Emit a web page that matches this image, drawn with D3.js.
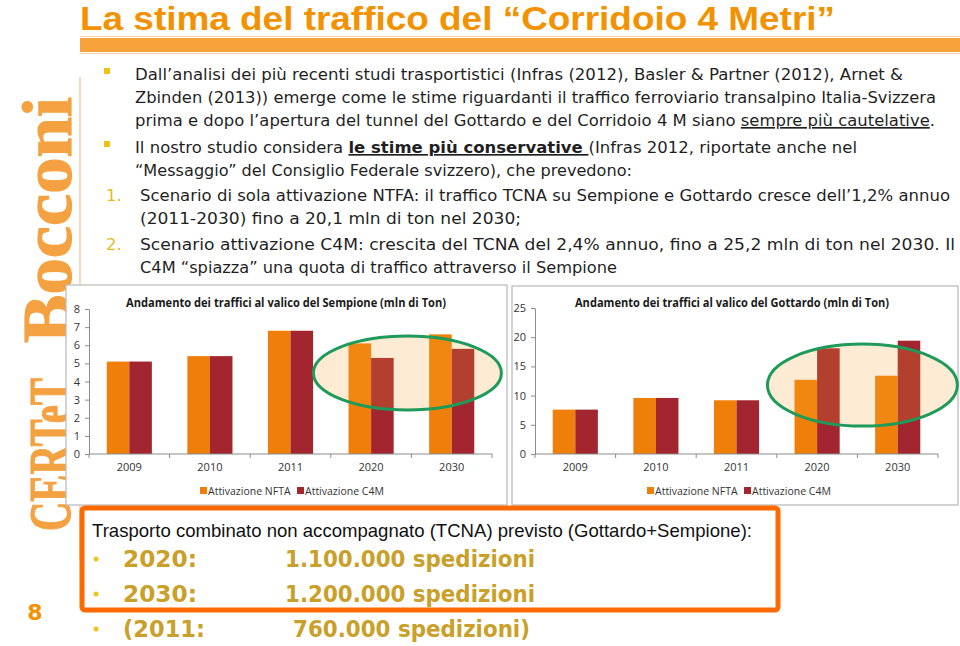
<!DOCTYPE html>
<html><head><meta charset="utf-8">
<script src="https://cdn.jsdelivr.net/npm/d3@7"></script>
<style>body{margin:0;background:#fff}svg{display:block}</style>
</head><body>
<svg id="s" width="960" height="646"></svg>
<script>
// ---------- DATA ----------
const years = ["2009","2010","2011","2020","2030"];
const seriesNames = ["Attivazione NFTA","Attivazione C4M"];
const sempioneNFTA = [5.1, 5.4, 6.8, 6.1, 6.6];
const sempioneC4M  = [5.1, 5.4, 6.8, 5.3, 5.8];
const gottardoNFTA = [7.6, 9.6, 9.2, 12.7, 13.4];
const gottardoC4M  = [7.6, 9.6, 9.2, 18.1, 19.4];
const sempioneTicks = [0,1,2,3,4,5,6,7,8];
const gottardoTicks = [0,5,10,15,20,25];
const sempioneTitle = "Andamento dei traffici al valico del Sempione (mln di Ton)";
const gottardoTitle = "Andamento dei traffici al valico del Gottardo (mln di Ton)";
const slideTitle = "La stima del traffico del \u201cCorridoio 4 Metri\u201d";
const boxHeader = "Trasporto combinato non accompagnato (TCNA) previsto (Gottardo+Sempione):";
const shipYears = ["2020:", "2030:", "(2011:"];
const shipValues = ["1.100.000 spedizioni", "1.200.000 spedizioni", "760.000 spedizioni)"];

const colors = ["#F07F0A", "#A2252F"];
const svg = d3.select("#s");

// ---------- sidebar ----------
svg.append("line").attr("x1",80).attr("x2",80).attr("y1",77).attr("y2",560)
  .attr("stroke","#F6BE88").attr("stroke-width",1.2);
const side = svg.append("g").attr("transform","translate(70,531) rotate(-90)");
side.append("text").text("CERTeT").attr("x",0).attr("y",0)
  .attr("font-family","'Liberation Serif','DejaVu Serif',serif").attr("font-weight","bold")
  .attr("font-size",60).attr("fill","#F4A241").attr("stroke","#F4A241").attr("stroke-width",1.2)
  .attr("textLength",153).attr("lengthAdjust","spacingAndGlyphs");
side.append("text").text("Bocconi").attr("x",188).attr("y",1)
  .attr("font-family","'Liberation Serif','DejaVu Serif',serif").attr("font-weight","bold")
  .attr("font-size",70).attr("fill","#F4A241").attr("stroke","#F4A241").attr("stroke-width",1.2)
  .attr("textLength",246).attr("lengthAdjust","spacingAndGlyphs");
svg.append("text").text("8").attr("x",35).attr("y",620).attr("text-anchor","middle")
  .attr("font-family","'DejaVu Sans',sans-serif").attr("font-weight","bold").attr("font-size",22).attr("fill","#F39200");

// ---------- title ----------
svg.append("text").text(slideTitle).attr("x",80).attr("y",30)
  .attr("font-family","'Liberation Sans',Arial,sans-serif").attr("font-weight","bold")
  .attr("font-size",34).attr("fill","#F39200").attr("textLength",755).attr("lengthAdjust","spacingAndGlyphs");
svg.append("rect").attr("x",80).attr("y",38).attr("width",880).attr("height",14).attr("fill","#F7A23B");
svg.append("line").attr("x1",80).attr("x2",960).attr("y1",36.5).attr("y2",36.5).attr("stroke","#FBD3A5");
svg.append("line").attr("x1",80).attr("x2",960).attr("y1",53.5).attr("y2",53.5).attr("stroke","#FBD3A5");

// ---------- body text ----------
const bodyFont = "Tahoma,Verdana,'DejaVu Sans',sans-serif";
const lines = [
  {y:80, x:135, w:768, parts:[{t:"Dall\u2019analisi dei più recenti studi trasportistici (Infras (2012),  Basler & Partner (2012), Arnet &"}], mark:"sq"},
  {y:103, x:135, w:801, parts:[{t:"Zbinden (2013)) emerge come le stime riguardanti il traffico ferroviario transalpino Italia-Svizzera"}]},
  {y:126, x:135, w:800, parts:[{t:"prima e dopo l\u2019apertura del tunnel del Gottardo e del Corridoio 4 M siano "},{t:"sempre più cautelative",u:true},{t:"."}]},
  {y:153, x:135, w:722, parts:[{t:"Il nostro studio considera "},{t:"le stime più conservative ",u:true,b:true},{t:"(Infras 2012, riportate anche nel"}], mark:"sq"},
  {y:176, x:135, w:497, parts:[{t:"\u201cMessaggio\u201d del Consiglio Federale svizzero), che prevedono:"}]},
  {y:201, x:140, w:810, parts:[{t:"Scenario di sola attivazione NTFA: il traffico TCNA su Sempione e Gottardo cresce dell\u20191,2% annuo"}], mark:"1."},
  {y:224, x:140, w:381, parts:[{t:"(2011-2030) fino a 20,1 mln di ton nel 2030;"}]},
  {y:250, x:140, w:815, parts:[{t:"Scenario attivazione C4M: crescita del TCNA del 2,4% annuo, fino a 25,2 mln di ton nel 2030. Il"}], mark:"2."},
  {y:273, x:140, w:477, parts:[{t:"C4M \u201cspiazza\u201d una quota di traffico attraverso il Sempione"}]}
];
lines.forEach(l=>{
  const t = svg.append("text").attr("x",l.x).attr("y",l.y).attr("font-family",bodyFont)
    .attr("font-size",16.5).attr("fill","#1f1f1f").attr("textLength",l.w).attr("lengthAdjust","spacingAndGlyphs");
  l.parts.forEach(p=>{
    const ts = t.append("tspan").text(p.t);
    if(p.u) ts.attr("text-decoration","underline");
    if(p.b) ts.attr("font-weight","bold");
  });
  if(l.mark==="sq"){
    svg.append("rect").attr("x",104).attr("y",l.y-12).attr("width",6).attr("height",6).attr("fill","#F2C10F");
  } else if(l.mark){
    svg.append("text").text(l.mark).attr("x",106).attr("y",l.y).attr("font-family",bodyFont)
      .attr("font-size",16.5).attr("fill","#E8B923");
  }
});

// ---------- charts ----------
function chart(cfg){
  const g = svg.append("g");
  g.append("rect").attr("x",cfg.box[0]).attr("y",cfg.box[1]).attr("width",cfg.box[2]).attr("height",cfg.box[3])
    .attr("fill","#fff").attr("stroke","#BDBDBD").attr("stroke-width",1.3);
  const x = d3.scaleBand().domain(years).range([cfg.left,cfg.right]).padding(0);
  const bw = x.bandwidth();
  const x1 = d3.scaleBand().domain(seriesNames).range([bw*0.22, bw*0.78]).padding(0);
  const y = d3.scaleLinear().domain([0, d3.max(cfg.ticks)]).range([cfg.y0, cfg.ytop]);
  g.append("text").text(cfg.title).attr("x",cfg.titleX).attr("y",307).attr("text-anchor","middle")
    .attr("font-family","'Open Sans','Liberation Sans',sans-serif").attr("font-weight","bold")
    .attr("font-size",12.5).attr("fill","#1a1a1a").attr("textLength",cfg.titleW).attr("lengthAdjust","spacingAndGlyphs");
  const ya = g.append("g").attr("transform",`translate(${cfg.left},0)`)
    .call(d3.axisLeft(y).tickValues(cfg.ticks).tickSize(4).tickPadding(5).tickSizeOuter(0));
  ya.select(".domain").attr("stroke","#8c8c8c");
  ya.selectAll(".tick line").attr("stroke","#8c8c8c");
  ya.selectAll(".tick text").attr("font-family","'Open Sans','Liberation Sans',sans-serif").attr("font-size",11).attr("fill","#333");
  const data = years.map((yr,i)=>({yr, vals:[cfg.a[i], cfg.b[i]]}));
  g.selectAll(".grp").data(data).join("g").attr("transform",d=>`translate(${x(d.yr)},0)`)
    .selectAll("rect").data(d=>d.vals.map((v,k)=>({v,k}))).join("rect")
    .attr("x",d=>x1(seriesNames[d.k])).attr("width",x1.bandwidth())
    .attr("y",d=>y(d.v)).attr("height",d=>y(0)-y(d.v)).attr("fill",d=>colors[d.k]);
  g.append("line").attr("x1",cfg.left).attr("x2",cfg.right).attr("y1",y(0)).attr("y2",y(0)).attr("stroke","#8c8c8c");
  years.forEach((yr,i)=>{
    g.append("line").attr("x1",x(yr)).attr("x2",x(yr)).attr("y1",y(0)).attr("y2",y(0)+4).attr("stroke","#8c8c8c");
    g.append("text").text(yr).attr("x",x(yr)+bw/2).attr("y",y(0)+17).attr("text-anchor","middle")
      .attr("font-family","'Open Sans','Liberation Sans',sans-serif").attr("font-size",11).attr("fill","#333");
  });
  g.append("line").attr("x1",cfg.right).attr("x2",cfg.right).attr("y1",y(0)).attr("y2",y(0)+4).attr("stroke","#8c8c8c");
  seriesNames.forEach((s,k)=>{
    const lx = cfg.legX[k];
    g.append("rect").attr("x",lx).attr("y",487).attr("width",7).attr("height",7).attr("fill",colors[k]);
    g.append("text").text(s).attr("x",lx+8).attr("y",494.5)
      .attr("font-family","'Open Sans','Liberation Sans',sans-serif").attr("font-size",10.5).attr("fill","#333");
  });
  const cx = (x("2020")+x("2030")+bw)/2 + cfg.ellDx;
  g.append("ellipse").attr("cx",cx).attr("cy",y(cfg.ellV)).attr("rx",cfg.rx).attr("ry",cfg.ry)
    .attr("fill","rgb(245,160,45)").attr("fill-opacity",0.21).attr("stroke","#1E9A5A").attr("stroke-width",3);
}
chart({box:[66,285,441,220], left:89, right:492, y0:454, ytop:309, ticks:sempioneTicks,
  a:sempioneNFTA, b:sempioneC4M, title:sempioneTitle, titleX:286, titleW:320, legX:[200,297],
  ellV:4.47, ellDx:-4, rx:94, ry:37});
chart({box:[512,286,446,219], left:535, right:938, y0:454, ytop:308, ticks:gottardoTicks,
  a:gottardoNFTA, b:gottardoC4M, title:gottardoTitle, titleX:732, titleW:314, legX:[647,744],
  ellV:11.8, ellDx:5, rx:95, ry:41});

// ---------- orange box ----------
svg.append("rect").attr("x",82).attr("y",508).attr("width",696).attr("height",102).attr("rx",3)
  .attr("fill","#fff").attr("stroke","#FF6A00").attr("stroke-width",5);
svg.append("text").text(boxHeader).attr("x",92).attr("y",537)
  .attr("font-family","'Liberation Sans Narrow','Liberation Sans',Arial,sans-serif").attr("font-size",19)
  .attr("fill","#111").attr("textLength",660).attr("lengthAdjust","spacingAndGlyphs");
const gold = "#C9A02A";
const rowY = [567, 602, 637];
const valX = [285, 285, 293];
const valW = [250, 250, 237];
const yrW = [74, 74, 82];
shipYears.forEach((s,i)=>{
  svg.append("circle").attr("cx",96).attr("cy",rowY[i]-8).attr("r",2.5).attr("fill","#F2C41C");
  svg.append("text").text(s).attr("x",123).attr("y",rowY[i]).attr("font-family",bodyFont)
    .attr("font-weight","bold").attr("font-size",23).attr("fill",gold)
    .attr("textLength",yrW[i]).attr("lengthAdjust","spacingAndGlyphs");
  svg.append("text").text(shipValues[i]).attr("x",valX[i]).attr("y",rowY[i]).attr("font-family",bodyFont)
    .attr("font-weight","bold").attr("font-size",23).attr("fill",gold)
    .attr("textLength",valW[i]).attr("lengthAdjust","spacingAndGlyphs");
});
</script>
</body></html>
